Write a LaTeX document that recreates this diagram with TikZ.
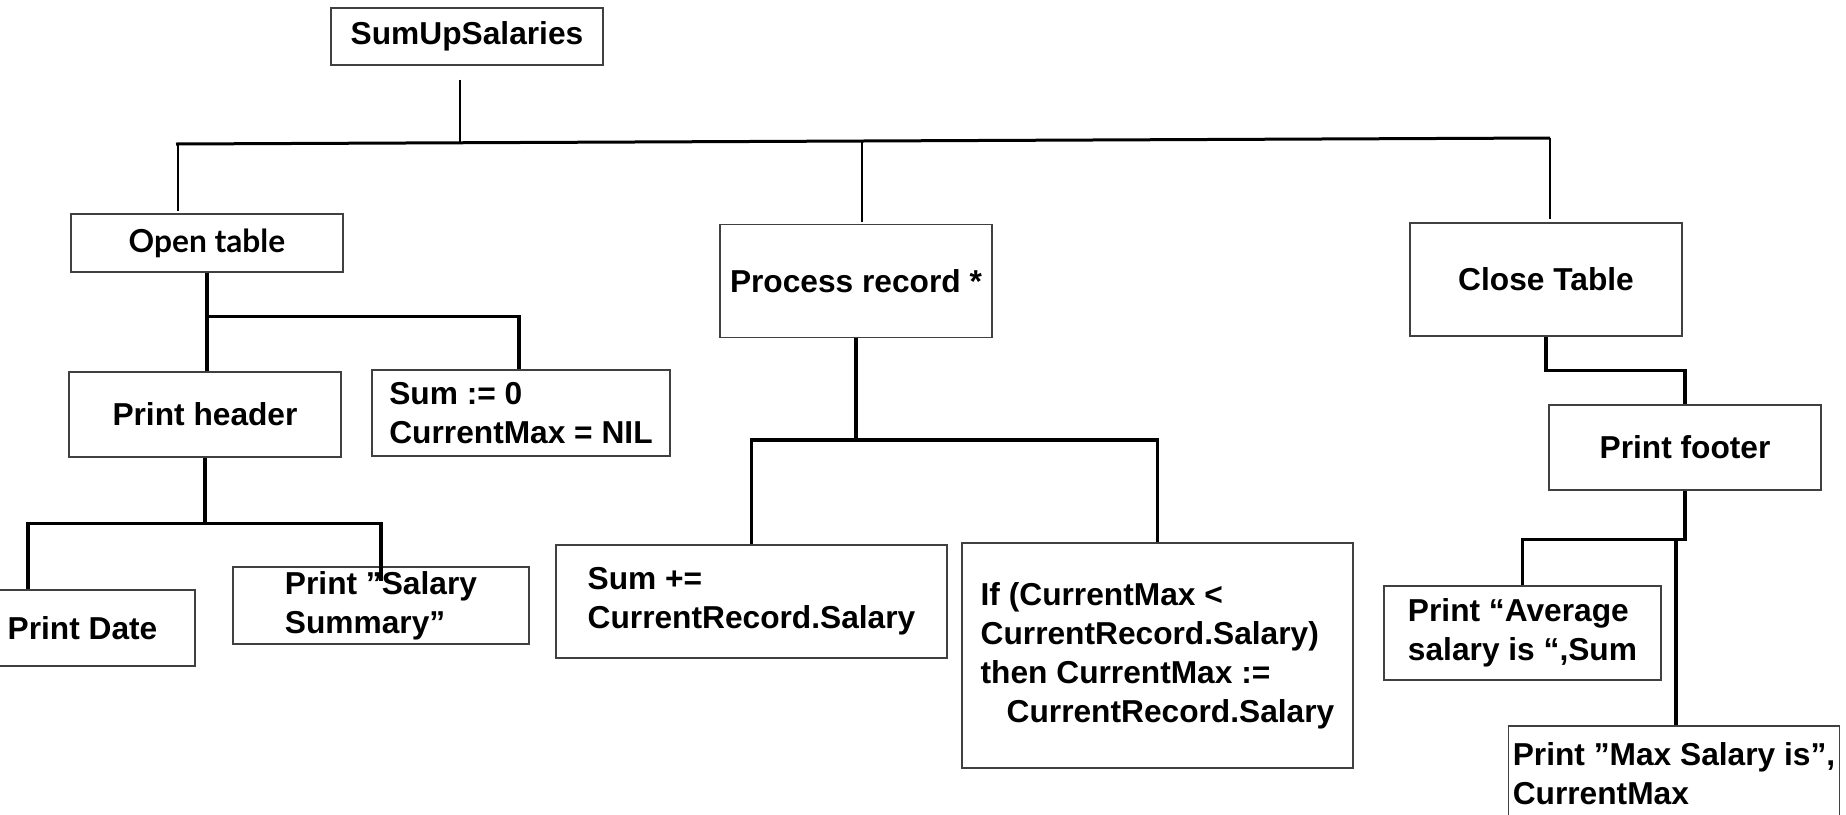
\documentclass[tikz,border=0pt]{standalone}
\usepackage{fontspec}
\setmainfont{Liberation Sans}
\newfontfamily\latofont{Lato}
\usetikzlibrary{calc}

\begin{document}
\begin{tikzpicture}[x=0.5pt, y=-0.5pt, font=\bfseries\fontsize{15.85}{19.5}\selectfont]
    \tikzset{ stepbox/.style={draw=black!75, line width=0.6pt, align=left, inner sep=2pt},
              link/.style={line width=0.8pt},
              bar/.style={line width=1.5pt},
              tree/.style={line width=1.7pt} }
    \useasboundingbox (0,0) rectangle (1846,814);
    \clip (0,0) rectangle (1846,814);

    % boxes
    \node[stepbox, minimum width=136pt, minimum height=28.5pt] (root) at (467,36.5) {SumUpSalaries};
    \node[stepbox, minimum width=136pt, minimum height=29pt] (opentab) at (207,243) {\latofont Open table};
    \node[stepbox, minimum width=136pt, minimum height=56.5pt] (procrec) at (856,281) {Process record *};
    \node[stepbox, minimum width=136pt, minimum height=56.5pt] (closetab) at (1546,279.5) {Close Table};

    \node[stepbox, minimum width=136pt, minimum height=42.5pt] (prthead) at (205,414.5) {Print header};
    \node[stepbox, minimum width=149pt, minimum height=43pt] (init) at (521,413) {Sum := 0\\CurrentMax = NIL};
    \node[stepbox, minimum width=112.5pt, minimum height=38pt] (prtdate) at (82.5,628) {Print Date};
    \node[stepbox, minimum width=148pt, minimum height=38.5pt] (prtsum) at (381,605.5) {Print ”Salary\\Summary”};

    \node[stepbox, minimum width=195.5pt, minimum height=56.5pt] (sumadd) at (751.5,601.5) {Sum +=\\CurrentRecord.Salary};
    \node[stepbox, minimum width=195.5pt, minimum height=112.5pt] (ifmax) at (1157.5,655.5)
        {If (CurrentMax <\\CurrentRecord.Salary)\\then CurrentMax :=\\\hspace*{13pt}CurrentRecord.Salary};

    \node[stepbox, minimum width=136pt, minimum height=42.5pt] (prtfoot) at (1685,447.5) {Print footer};
    \node[stepbox, minimum width=138.5pt, minimum height=47pt] (prtavg) at (1522.5,633) {Print “Average\\salary is “,Sum};
    \node[stepbox, minimum width=165pt, minimum height=48pt] (prtmax) at (1674,774) {Print ”Max Salary is”,\\CurrentMax};

    % top level
    \coordinate (j0) at (460,142);
    \coordinate (j1) at (176,144);
    \coordinate (j2) at (862,140);
    \coordinate (j3) at (1550,138);
    \draw[link] ($(root.south)+(-7,14)$) -- (j0);
    \draw[bar] (j1) -- (j3);
    \draw[link] ($(j1)+(2,0)$) -- ($(opentab.north)+(-29,-2)$);
    \draw[link] (j2) -- ($(procrec.north)+(6,-2)$);
    \draw[link] (j3) -- ($(closetab.north)+(4,-3)$);

    % open table
    \draw[tree] (opentab.south) -- (opentab.south |- prthead.north);
    \draw[tree] ($(opentab.south)+(0,44)$) -| ($(init.north)+(-2,0)$);
    \draw[tree] (prthead.south) -- ++(0,66) coordinate (k2);
    \draw[tree] ($(prtdate.north)+(-54.5,0)$) |- (k2) -| ($(prtsum.north)+(0,15)$);

    % process record
    \draw[tree] (procrec.south) -- ++(0,102) coordinate (k3);
    \draw[tree] (sumadd.north) |- (k3) -| (ifmax.north);

    % close table
    \draw[tree] (closetab.south) -- ++(0,34) -| (prtfoot.north);
    \draw[tree] (prtfoot.south) -- ++(0,49) coordinate (k4) -| (prtavg.north);
    \draw[tree] ($(k4)+(-9,0)$) -- ($(prtmax.north)+(2,0)$);
\end{tikzpicture}
\end{document}
